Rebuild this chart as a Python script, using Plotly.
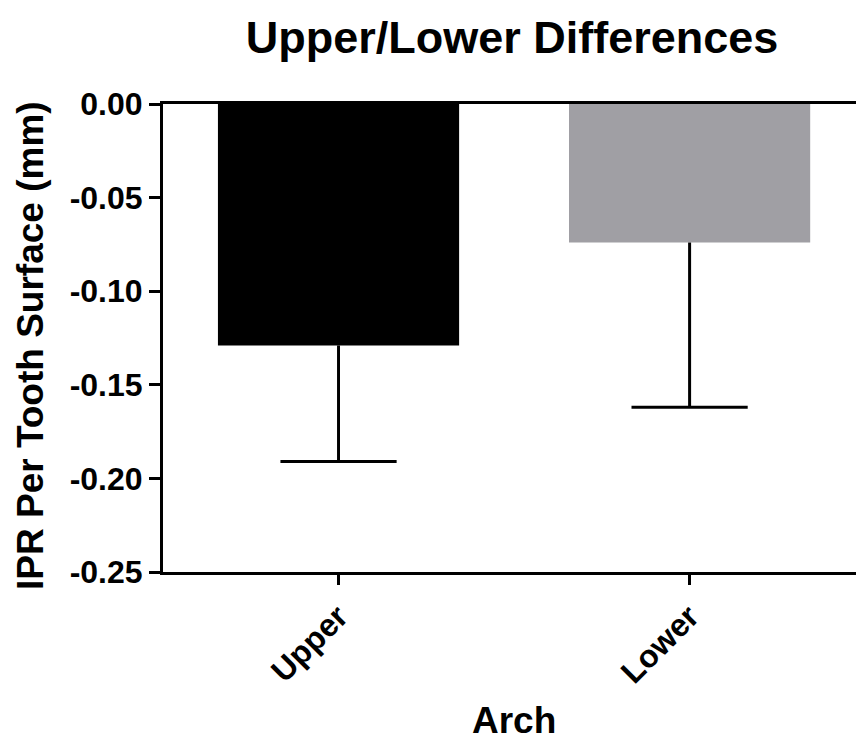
import plotly.graph_objects as go

# Mean IPR per tooth surface by arch, with one-sided (downward) SD bars
arches = ["Upper", "Lower"]
means = [-0.129, -0.074]
sd = [0.062, 0.088]
bar_colors = ["#000000", "#A09FA4"]

y_ticks = [0.00, -0.05, -0.10, -0.15, -0.20, -0.25]
y_tick_text = ["0.00", "-0.05", "-0.10", "-0.15", "-0.20", "-0.25"]

FONT = "Liberation Sans, Arial, Helvetica, sans-serif"

# lower end of each SD whisker, where its cap sits
whisker_ends = [m - s for m, s in zip(means, sd)]

fig = go.Figure()

# Bars with a stem-only error bar (no caps at the bar end)
fig.add_trace(
    go.Bar(
        x=arches,
        y=means,
        width=0.687,
        marker=dict(color=bar_colors, line=dict(width=0)),
        error_y=dict(
            type="data",
            symmetric=False,
            array=[0, 0],
            arrayminus=sd,
            color="black",
            thickness=3,
            width=0,
        ),
        showlegend=False,
        hoverinfo="skip",
    )
)

# Caps at the lower end of each whisker
fig.add_trace(
    go.Scatter(
        x=arches,
        y=whisker_ends,
        mode="markers",
        marker=dict(
            symbol="line-ew",
            size=83,
            line=dict(color="black", width=3),
        ),
        showlegend=False,
        hoverinfo="skip",
    )
)

fig.update_layout(
    width=856,
    height=744,
    margin=dict(l=163, r=0, t=104, b=172),
    paper_bgcolor="white",
    plot_bgcolor="white",
    font=dict(family=FONT, color="black"),
    title=dict(
        text="<b>Upper/Lower Differences</b>",
        font=dict(size=45, family=FONT, color="black"),
        x=512 / 856,
        xref="container",
        xanchor="center",
        y=1 - 37 / 744,
        yref="container",
        yanchor="middle",
    ),
)

fig.update_xaxes(
    range=[-0.5, 1.474],
    showline=True,
    linecolor="black",
    linewidth=3,
    mirror=True,
    ticks="outside",
    ticklen=10,
    tickwidth=3,
    tickcolor="black",
    tickangle=-45,
    tickfont=dict(size=32, family=FONT, color="black", weight="bold"),
    showgrid=False,
    zeroline=False,
    automargin=False,
)

fig.update_yaxes(
    range=[-0.25, 0],
    tickvals=y_ticks,
    ticktext=y_tick_text,
    showline=True,
    linecolor="black",
    linewidth=3,
    ticks="outside",
    ticklen=11,
    tickwidth=3,
    tickcolor="black",
    ticklabelstandoff=0,
    tickfont=dict(size=32, family=FONT, color="black", weight="bold"),
    showgrid=False,
    zeroline=False,
    automargin=False,
)

# Axis titles
fig.add_annotation(
    text="<b>IPR Per Tooth Surface (mm)</b>",
    xref="paper", yref="paper",
    x=(30 - 163) / 693, y=(572 - 346) / 468,
    xanchor="center", yanchor="middle",
    textangle=-90,
    showarrow=False,
    font=dict(size=37, family=FONT, color="black"),
)
fig.add_annotation(
    text="<b>Arch</b>",
    xref="paper", yref="paper",
    x=(514 - 163) / 693, y=-(743 - 572) / 468,
    xanchor="center", yanchor="bottom",
    showarrow=False,
    font=dict(size=37, family=FONT, color="black"),
)

fig.write_html("out.html")
